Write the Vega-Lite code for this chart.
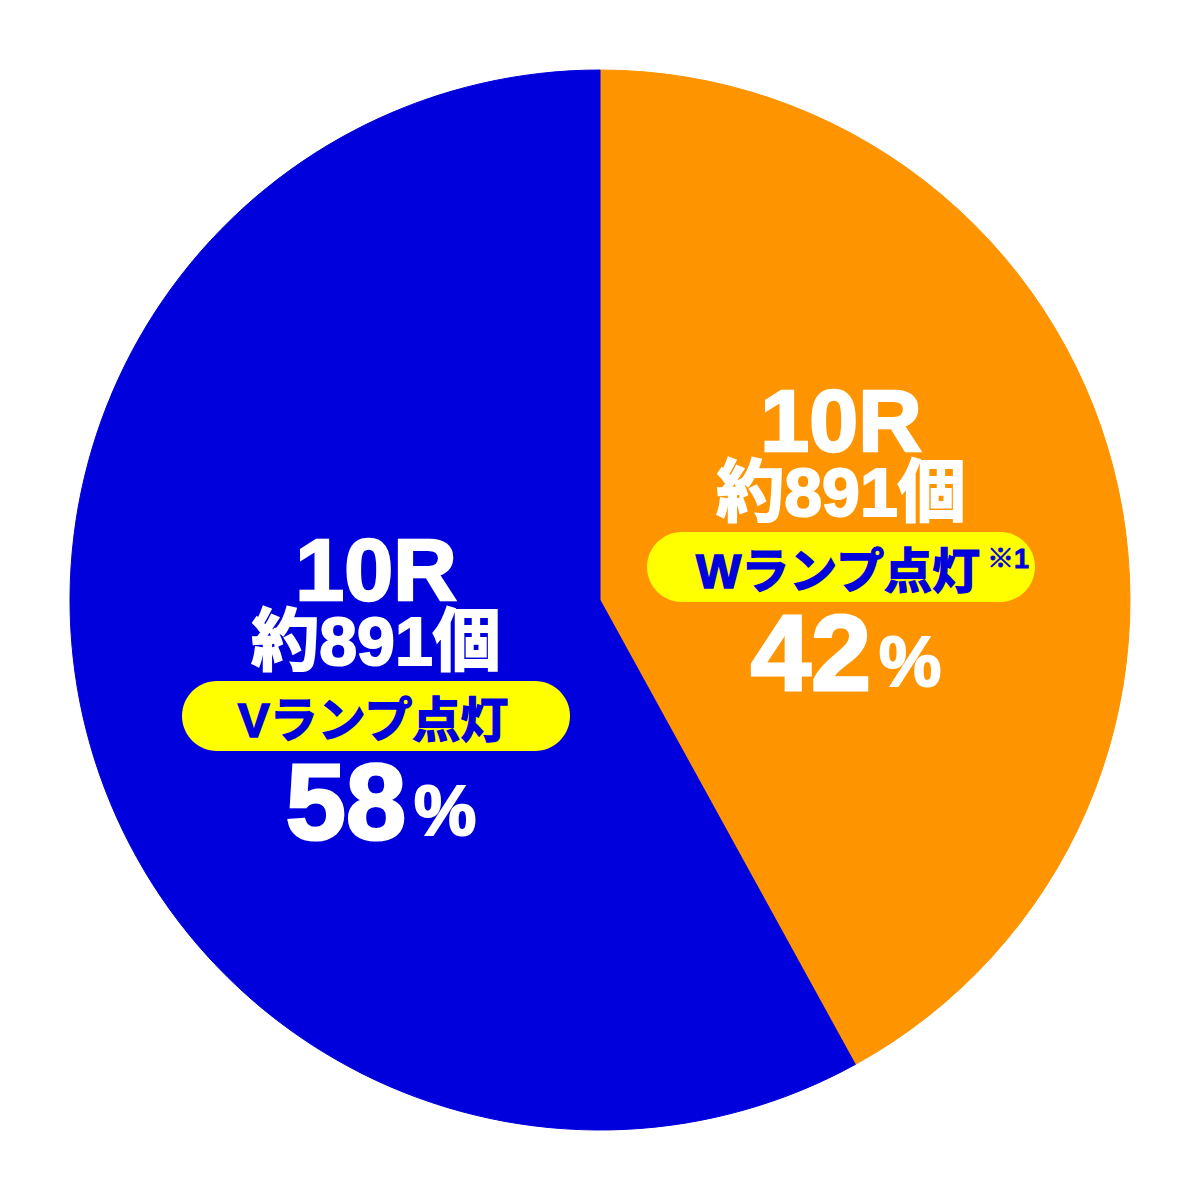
{
  "$schema": "https://vega.github.io/schema/vega-lite/v6.json",
  "description": "Pie of 10R payouts by lamp, 42% W lamp vs 58% V lamp",
  "width": 1200,
  "height": 1200,
  "autosize": {"type": "fit", "contains": "padding"},
  "padding": 0,
  "background": "white",
  "config": {"view": {"stroke": null}},
  "data": {
    "values": [
      {"lamp": "W", "order": 1, "pct": 42, "rounds": "10R", "balls": "約891個", "label": "Wランプ点灯", "note": "※1", "lx": 0.482, "ly": 0.066},
      {"lamp": "V", "order": 2, "pct": 58, "rounds": "10R", "balls": "約891個", "label": "Vランプ点灯", "note": "", "lx": -0.448, "ly": -0.232}
    ]
  },
  "layer": [
    {
      "mark": {"type": "arc", "outerRadius": 530, "strokeWidth": 1},
      "encoding": {
        "theta": {"field": "pct", "type": "quantitative", "stack": true},
        "order": {"field": "order", "type": "quantitative"},
        "color": {"field": "lamp", "type": "nominal", "legend": null,
                  "scale": {"domain": ["W", "V"], "range": ["#FD9400", "#0000DC"]}},
        "stroke": {"field": "lamp", "type": "nominal", "legend": null,
                   "scale": {"domain": ["W", "V"], "range": ["#FD9400", "#0000DC"]}}
      }
    },
    {
      "encoding": {
        "x": {"field": "lx", "type": "quantitative", "axis": null, "scale": {"domain": [-1.2, 1.2]}},
        "y": {"field": "ly", "type": "quantitative", "axis": null, "scale": {"domain": [-1.2, 1.2]}}
      },
      "layer": [
        {
          "mark": {"type": "point", "filled": true, "opacity": 1, "color": "#FFFF00", "size": 150544,
                   "shape": "M -0.8196 -0.1804 L 0.8196 -0.1804 A 0.1804 0.1804 0 0 1 0.8196 0.1804 L -0.8196 0.1804 A 0.1804 0.1804 0 0 1 -0.8196 -0.1804 Z"}
        },
        {
          "mark": {"type": "text", "font": "Liberation Sans, Noto Sans CJK JP", "fontWeight": "bold", "fontSize": 88, "color": "white",
                   "stroke": "white", "strokeWidth": 2.5, "baseline": "alphabetic", "dy": -116},
          "encoding": {"text": {"field": "rounds"}}
        },
        {
          "mark": {"type": "text", "font": "Liberation Sans, Noto Sans CJK JP", "fontWeight": "bold", "fontSize": 68, "color": "white",
                   "stroke": "white", "strokeWidth": 2, "baseline": "alphabetic", "dy": -51},
          "encoding": {"text": {"field": "balls"}}
        },
        {
          "mark": {"type": "text", "font": "Liberation Sans, Noto Sans CJK JP", "fontWeight": "bold", "fontSize": 48, "color": "#0000DC",
                   "stroke": "#0000DC", "strokeWidth": 1.5, "baseline": "alphabetic", "dy": 21, "dx": -3},
          "encoding": {"text": {"field": "label"}}
        },
        {
          "mark": {"type": "text", "font": "Liberation Sans, Noto Sans CJK JP", "fontWeight": "bold", "fontSize": 27, "color": "#0000DC",
                   "stroke": "#0000DC", "strokeWidth": 0.8, "baseline": "alphabetic", "align": "left", "dy": 1, "dx": 146},
          "encoding": {"text": {"field": "note"}}
        },
        {
          "mark": {"type": "text", "font": "Liberation Sans", "fontWeight": "bold", "fontSize": 108, "color": "white",
                   "stroke": "white", "strokeWidth": 3, "baseline": "alphabetic", "align": "right", "dy": 123, "dx": 30},
          "encoding": {"text": {"field": "pct"}}
        },
        {
          "mark": {"type": "text", "font": "Liberation Sans", "fontWeight": "bold", "fontSize": 70, "color": "white",
                   "stroke": "white", "strokeWidth": 2, "baseline": "alphabetic", "align": "left", "dy": 119, "dx": 38, "text": "%"},
          "encoding": {}
        }
      ]
    }
  ]
}
